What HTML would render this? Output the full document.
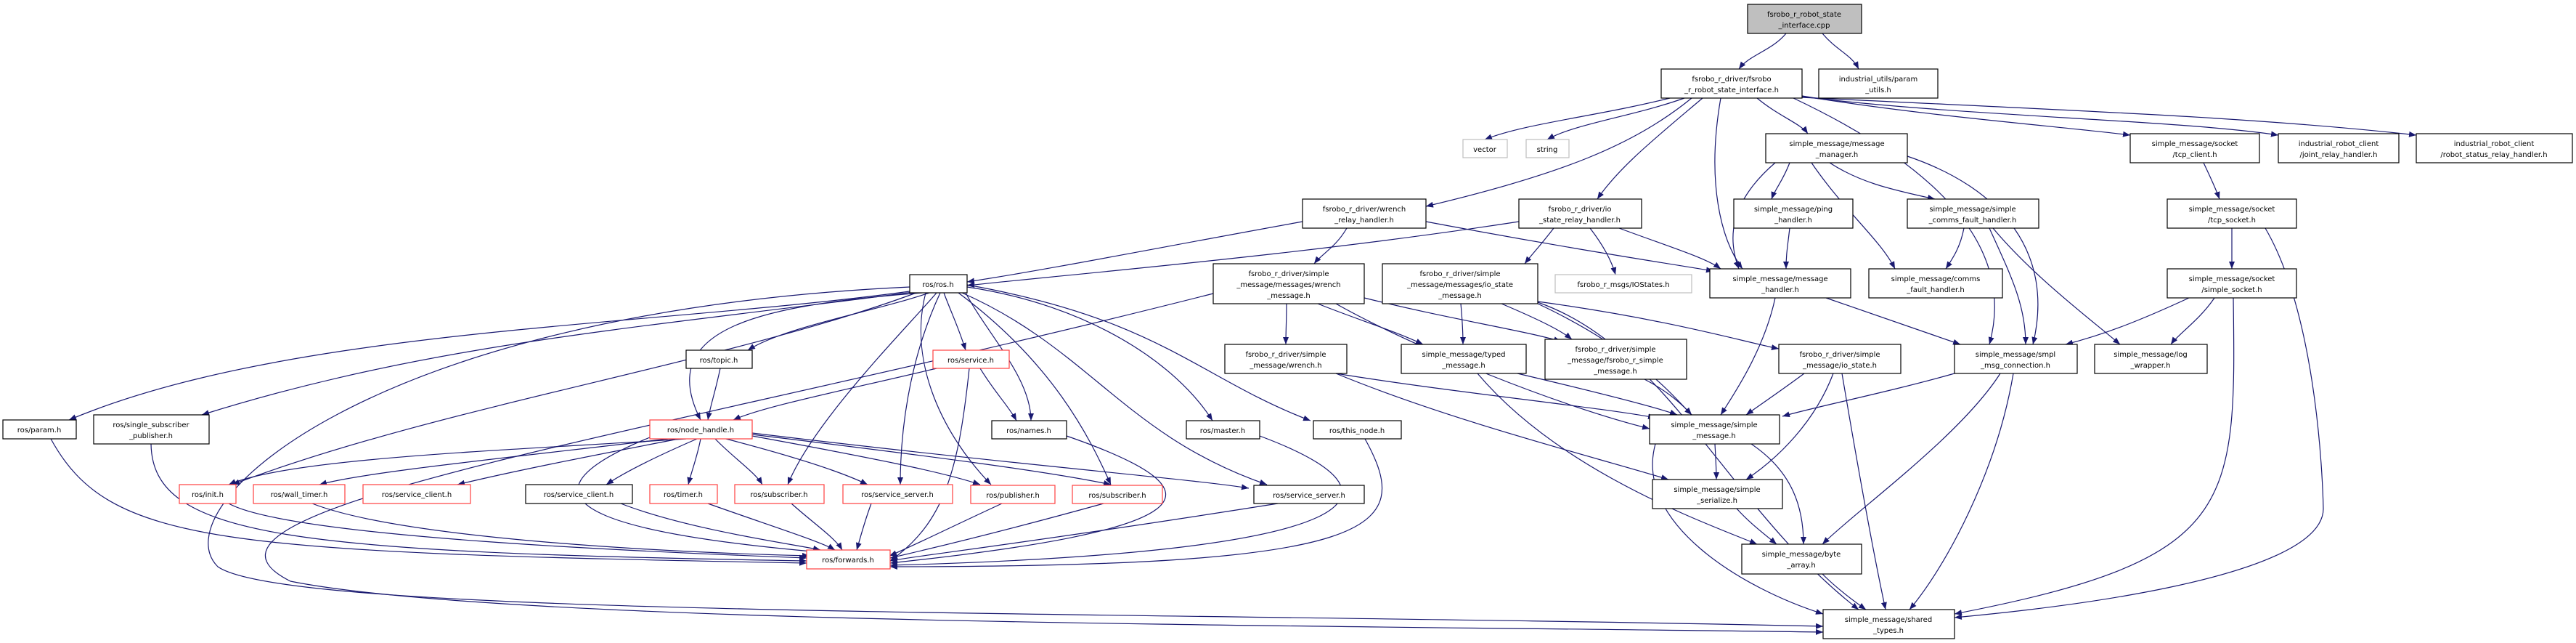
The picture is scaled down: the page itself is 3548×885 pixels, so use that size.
<!DOCTYPE html>
<html><head><meta charset="utf-8"><style>
html,body{margin:0;padding:0;background:#fff;}
svg{display:block;}
text{font-family:"DejaVu Sans","Liberation Sans",sans-serif;font-size:10px;fill:#000;text-anchor:middle;}
.e path{fill:none;stroke:#191970;stroke-width:1.2;marker-end:url(#a);}
rect{fill:#fff;stroke:#000;stroke-width:1.2;}
rect.r{stroke:#ff4040;}
rect.g{stroke:#bfbfbf;}
rect.t{fill:#bfbfbf;}
</style></head><body>
<svg width="3548" height="885" viewBox="0 0 3548 885" xmlns="http://www.w3.org/2000/svg">
<defs><marker id="a" markerWidth="10" markerHeight="8" refX="10" refY="4" orient="auto" markerUnits="userSpaceOnUse"><path d="M0,0 L10,4 L0,8z" fill="#191970"/></marker></defs>
<g class="e">
<path d="M2460,46 C2440,70 2410,75 2395,95"/>
<path d="M2510,46 C2530,70 2550,75 2560,95"/>
<path d="M2300,135 C2200,160 2100,170 2045,192"/>
<path d="M2320,135 C2250,160 2170,170 2131,192"/>
<path d="M2330,135 C2250,200 2150,240 1964,284"/>
<path d="M2345,135 C2280,190 2230,230 2200,274"/>
<path d="M2420,135 C2450,160 2480,170 2490,184"/>
<path d="M2370,135 C2350,250 2370,330 2400,370"/>
<path d="M2470,135 C2650,220 2780,330 2740,474"/>
<path d="M2482,132 C2650,160 2850,175 2934,186"/>
<path d="M2482,133 C2700,160 3000,165 3138,186"/>
<path d="M2482,134 C2800,150 3100,160 3328,186"/>
<path d="M1794,305 C1600,340 1450,370 1332,388"/>
<path d="M1855,314 C1840,340 1820,350 1810,363"/>
<path d="M1964,305 C2150,340 2280,360 2360,373"/>
<path d="M2092,305 C1800,350 1500,375 1332,393"/>
<path d="M2140,314 C2120,340 2110,350 2100,363"/>
<path d="M2190,314 C2210,340 2220,360 2225,378"/>
<path d="M2230,314 C2300,340 2350,355 2370,370"/>
<path d="M2445,224 C2380,280 2380,330 2395,370"/>
<path d="M2465,224 C2455,250 2445,260 2440,274"/>
<path d="M2495,224 C2540,290 2590,330 2610,370"/>
<path d="M2520,224 C2560,250 2600,260 2665,274"/>
<path d="M2627,215 C2760,260 2830,350 2800,474"/>
<path d="M2465,314 C2462,340 2460,350 2460,370"/>
<path d="M2705,314 C2700,340 2690,355 2680,370"/>
<path d="M2740,314 C2770,380 2790,420 2790,474"/>
<path d="M2745,314 C2800,380 2880,440 2920,474"/>
<path d="M3035,224 C3045,245 3052,260 3057,274"/>
<path d="M3074,314 C3074,340 3074,355 3074,370"/>
<path d="M3120,314 C3200,450 3200,720 3200,700 C3200,800 2800,840 2692,850"/>
<path d="M3015,410 C2950,440 2900,460 2845,474"/>
<path d="M3050,410 C3030,440 3000,460 2990,474"/>
<path d="M3076,410 C3080,700 3080,770 2692,845"/>
<path d="M2445,410 C2430,480 2390,540 2370,571"/>
<path d="M2515,410 C2600,440 2660,460 2700,474"/>
<path d="M2692,514 C2600,540 2500,560 2455,573"/>
<path d="M2755,514 C2700,600 2560,700 2510,749"/>
<path d="M2773,514 C2750,650 2680,780 2630,839"/>
<path d="M1260,400 C900,450 400,450 95,578"/>
<path d="M1265,401 C900,450 600,470 278,571"/>
<path d="M1280,403 C1200,430 1080,450 1030,482"/>
<path d="M1270,403 C1050,420 900,450 965,578"/>
<path d="M1262,403 C1000,500 600,560 320,667"/>
<path d="M1300,403 C1310,430 1320,450 1330,482"/>
<path d="M1330,403 C1360,460 1420,520 1420,579"/>
<path d="M1290,403 C1250,450 1120,580 1085,667"/>
<path d="M1295,403 C1250,500 1240,600 1240,667"/>
<path d="M1275,403 C1250,500 1300,600 1365,667"/>
<path d="M1320,403 C1450,500 1500,600 1530,667"/>
<path d="M1325,403 C1500,480 1550,600 1745,667"/>
<path d="M1332,395 C1500,420 1620,500 1670,579"/>
<path d="M1332,392 C1600,440 1650,520 1805,579"/>
<path d="M1253,395 C500,430 220,700 300,780 C400,850 1500,840 2511,862"/>
<path d="M992,507 C985,540 978,560 975,578"/>
<path d="M1290,507 C1150,540 1050,560 1010,578"/>
<path d="M1350,507 C1370,540 1390,560 1400,579"/>
<path d="M1335,507 C1320,650 1300,720 1226,772"/>
<path d="M1772,418 C1772,440 1771,455 1771,474"/>
<path d="M1815,418 C1870,440 1920,455 1960,474"/>
<path d="M1840,418 C1950,480 2150,560 2272,590"/>
<path d="M1879,410 C2000,440 2100,455 2150,470"/>
<path d="M1671,404 C900,600 200,700 400,800 C700,860 1800,860 2511,870"/>
<path d="M2012,418 C2014,440 2015,455 2015,474"/>
<path d="M2068,418 C2120,440 2150,455 2165,467"/>
<path d="M2118,415 C2300,440 2400,470 2450,480"/>
<path d="M2118,418 C2250,480 2300,540 2330,571"/>
<path d="M2118,416 C2300,480 2380,700 2560,839"/>
<path d="M1840,514 C2000,540 2200,560 2280,575"/>
<path d="M1840,514 C2000,580 2200,630 2298,660"/>
<path d="M2090,514 C2200,540 2280,560 2310,571"/>
<path d="M2035,514 C2150,650 2350,720 2420,749"/>
<path d="M2265,522 C2300,540 2320,560 2330,571"/>
<path d="M2485,514 C2450,540 2420,560 2405,571"/>
<path d="M2525,514 C2500,580 2450,630 2405,660"/>
<path d="M2537,514 C2560,650 2580,760 2597,839"/>
<path d="M2362,611 C2363,630 2364,645 2364,660"/>
<path d="M2412,611 C2470,650 2484,700 2484,749"/>
<path d="M2280,611 C2250,720 2400,810 2511,845"/>
<path d="M2392,700 C2410,720 2430,735 2447,749"/>
<path d="M2510,790 C2530,810 2550,825 2570,839"/>
<path d="M945,604 C700,620 400,630 315,667"/>
<path d="M920,604 C700,630 500,650 440,667"/>
<path d="M935,604 C800,630 700,650 630,667"/>
<path d="M960,604 C900,630 860,650 835,667"/>
<path d="M965,604 C960,630 952,650 948,667"/>
<path d="M985,604 C1010,630 1040,650 1050,667"/>
<path d="M1000,604 C1100,630 1160,650 1195,667"/>
<path d="M1036,600 C1200,630 1300,650 1350,667"/>
<path d="M1036,598 C1300,630 1450,650 1530,667"/>
<path d="M1036,596 C1400,640 1650,660 1720,672"/>
<path d="M900,600 C650,700 900,740 1130,760"/>
<path d="M70,604 C150,750 300,760 1111,775"/>
<path d="M208,611 C210,740 400,760 1111,772"/>
<path d="M315,693 C400,740 900,760 1111,768"/>
<path d="M430,693 C550,740 900,760 1115,765"/>
<path d="M855,693 C950,730 1100,750 1130,757"/>
<path d="M975,693 C1050,720 1130,745 1150,757"/>
<path d="M1090,693 C1120,720 1150,740 1160,757"/>
<path d="M1200,693 C1190,720 1185,740 1180,757"/>
<path d="M1380,693 C1300,730 1250,755 1225,765"/>
<path d="M1520,693 C1350,740 1260,760 1226,768"/>
<path d="M1760,693 C1400,750 1260,765 1226,772"/>
<path d="M1469,600 C1700,680 1650,730 1226,775"/>
<path d="M1735,600 C1950,680 1900,760 1226,778"/>
<path d="M1880,604 C1950,730 1900,780 1226,780"/>
</g>
<g>
<rect class="t" x="2407" y="6" width="157" height="40"/><text x="2485" y="23">fsrobo_r_robot_state</text><text x="2485" y="38">_interface.cpp</text>
<rect x="2288" y="95" width="194" height="40"/><text x="2385" y="112">fsrobo_r_driver/fsrobo</text><text x="2385" y="127">_r_robot_state_interface.h</text>
<rect x="2505" y="95" width="164" height="40"/><text x="2587" y="112">industrial_utils/param</text><text x="2587" y="127">_utils.h</text>
<rect class="g" x="2015" y="192" width="61" height="25"/><text x="2045" y="209">vector</text>
<rect class="g" x="2102" y="192" width="59" height="25"/><text x="2131" y="209">string</text>
<rect x="2432" y="184" width="195" height="40"/><text x="2530" y="201">simple_message/message</text><text x="2530" y="216">_manager.h</text>
<rect x="2934" y="184" width="178" height="40"/><text x="3023" y="201">simple_message/socket</text><text x="3023" y="216">/tcp_client.h</text>
<rect x="3138" y="184" width="166" height="40"/><text x="3221" y="201">industrial_robot_client</text><text x="3221" y="216">/joint_relay_handler.h</text>
<rect x="3328" y="184" width="215" height="40"/><text x="3435" y="201">industrial_robot_client</text><text x="3435" y="216">/robot_status_relay_handler.h</text>
<rect x="1794" y="274" width="170" height="40"/><text x="1879" y="291">fsrobo_r_driver/wrench</text><text x="1879" y="306">_relay_handler.h</text>
<rect x="2092" y="274" width="169" height="40"/><text x="2176" y="291">fsrobo_r_driver/io</text><text x="2176" y="306">_state_relay_handler.h</text>
<rect x="2388" y="274" width="164" height="40"/><text x="2470" y="291">simple_message/ping</text><text x="2470" y="306">_handler.h</text>
<rect x="2627" y="274" width="181" height="40"/><text x="2717" y="291">simple_message/simple</text><text x="2717" y="306">_comms_fault_handler.h</text>
<rect x="2985" y="274" width="178" height="40"/><text x="3074" y="291">simple_message/socket</text><text x="3074" y="306">/tcp_socket.h</text>
<rect x="2355" y="370" width="194" height="40"/><text x="2452" y="387">simple_message/message</text><text x="2452" y="402">_handler.h</text>
<rect x="2574" y="370" width="184" height="40"/><text x="2666" y="387">simple_message/comms</text><text x="2666" y="402">_fault_handler.h</text>
<rect x="2985" y="370" width="178" height="40"/><text x="3074" y="387">simple_message/socket</text><text x="3074" y="402">/simple_socket.h</text>
<rect x="1253" y="378" width="79" height="25"/><text x="1292" y="395">ros/ros.h</text>
<rect x="1671" y="363" width="208" height="55"/><text x="1775" y="380">fsrobo_r_driver/simple</text><text x="1775" y="395">_message/messages/wrench</text><text x="1775" y="410">_message.h</text>
<rect x="1904" y="363" width="214" height="55"/><text x="2011" y="380">fsrobo_r_driver/simple</text><text x="2011" y="395">_message/messages/io_state</text><text x="2011" y="410">_message.h</text>
<rect class="g" x="2142" y="378" width="188" height="25"/><text x="2236" y="395">fsrobo_r_msgs/IOStates.h</text>
<rect class="r" x="1285" y="482" width="105" height="25"/><text x="1337" y="499">ros/service.h</text>
<rect x="945" y="482" width="91" height="25"/><text x="990" y="499">ros/topic.h</text>
<rect x="1687" y="474" width="168" height="40"/><text x="1771" y="491">fsrobo_r_driver/simple</text><text x="1771" y="506">_message/wrench.h</text>
<rect x="1930" y="474" width="172" height="40"/><text x="2016" y="491">simple_message/typed</text><text x="2016" y="506">_message.h</text>
<rect x="2128" y="467" width="195" height="55"/><text x="2225" y="484">fsrobo_r_driver/simple</text><text x="2225" y="499">_message/fsrobo_r_simple</text><text x="2225" y="514">_message.h</text>
<rect x="2450" y="474" width="168" height="40"/><text x="2534" y="491">fsrobo_r_driver/simple</text><text x="2534" y="506">_message/io_state.h</text>
<rect x="2692" y="474" width="169" height="40"/><text x="2776" y="491">simple_message/smpl</text><text x="2776" y="506">_msg_connection.h</text>
<rect x="2885" y="474" width="155" height="40"/><text x="2962" y="491">simple_message/log</text><text x="2962" y="506">_wrapper.h</text>
<rect x="4" y="578" width="101" height="26"/><text x="54" y="595">ros/param.h</text>
<rect x="129" y="571" width="159" height="40"/><text x="208" y="588">ros/single_subscriber</text><text x="208" y="603">_publisher.h</text>
<rect class="r" x="895" y="578" width="141" height="26"/><text x="965" y="595">ros/node_handle.h</text>
<rect x="1366" y="579" width="103" height="25"/><text x="1417" y="596">ros/names.h</text>
<rect x="1634" y="579" width="101" height="25"/><text x="1684" y="596">ros/master.h</text>
<rect x="1809" y="579" width="121" height="25"/><text x="1869" y="596">ros/this_node.h</text>
<rect x="2272" y="571" width="179" height="40"/><text x="2361" y="588">simple_message/simple</text><text x="2361" y="603">_message.h</text>
<rect class="r" x="247" y="667" width="78" height="26"/><text x="286" y="684">ros/init.h</text>
<rect class="r" x="349" y="667" width="126" height="26"/><text x="412" y="684">ros/wall_timer.h</text>
<rect class="r" x="500" y="667" width="148" height="26"/><text x="574" y="684">ros/service_client.h</text>
<rect x="724" y="667" width="147" height="26"/><text x="797" y="684">ros/service_client.h</text>
<rect class="r" x="895" y="667" width="93" height="26"/><text x="941" y="684">ros/timer.h</text>
<rect class="r" x="1012" y="667" width="123" height="26"/><text x="1073" y="684">ros/subscriber.h</text>
<rect class="r" x="1161" y="667" width="151" height="26"/><text x="1236" y="684">ros/service_server.h</text>
<rect class="r" x="1337" y="668" width="116" height="25"/><text x="1395" y="685">ros/publisher.h</text>
<rect class="r" x="1477" y="668" width="124" height="25"/><text x="1539" y="685">ros/subscriber.h</text>
<rect x="1727" y="668" width="152" height="25"/><text x="1803" y="685">ros/service_server.h</text>
<rect x="2276" y="660" width="179" height="40"/><text x="2365" y="677">simple_message/simple</text><text x="2365" y="692">_serialize.h</text>
<rect x="2399" y="749" width="165" height="41"/><text x="2481" y="766">simple_message/byte</text><text x="2481" y="781">_array.h</text>
<rect class="r" x="1111" y="757" width="115" height="26"/><text x="1168" y="774">ros/forwards.h</text>
<rect x="2511" y="839" width="181" height="40"/><text x="2601" y="856">simple_message/shared</text><text x="2601" y="871">_types.h</text>
</g>
</svg>
</body></html>
